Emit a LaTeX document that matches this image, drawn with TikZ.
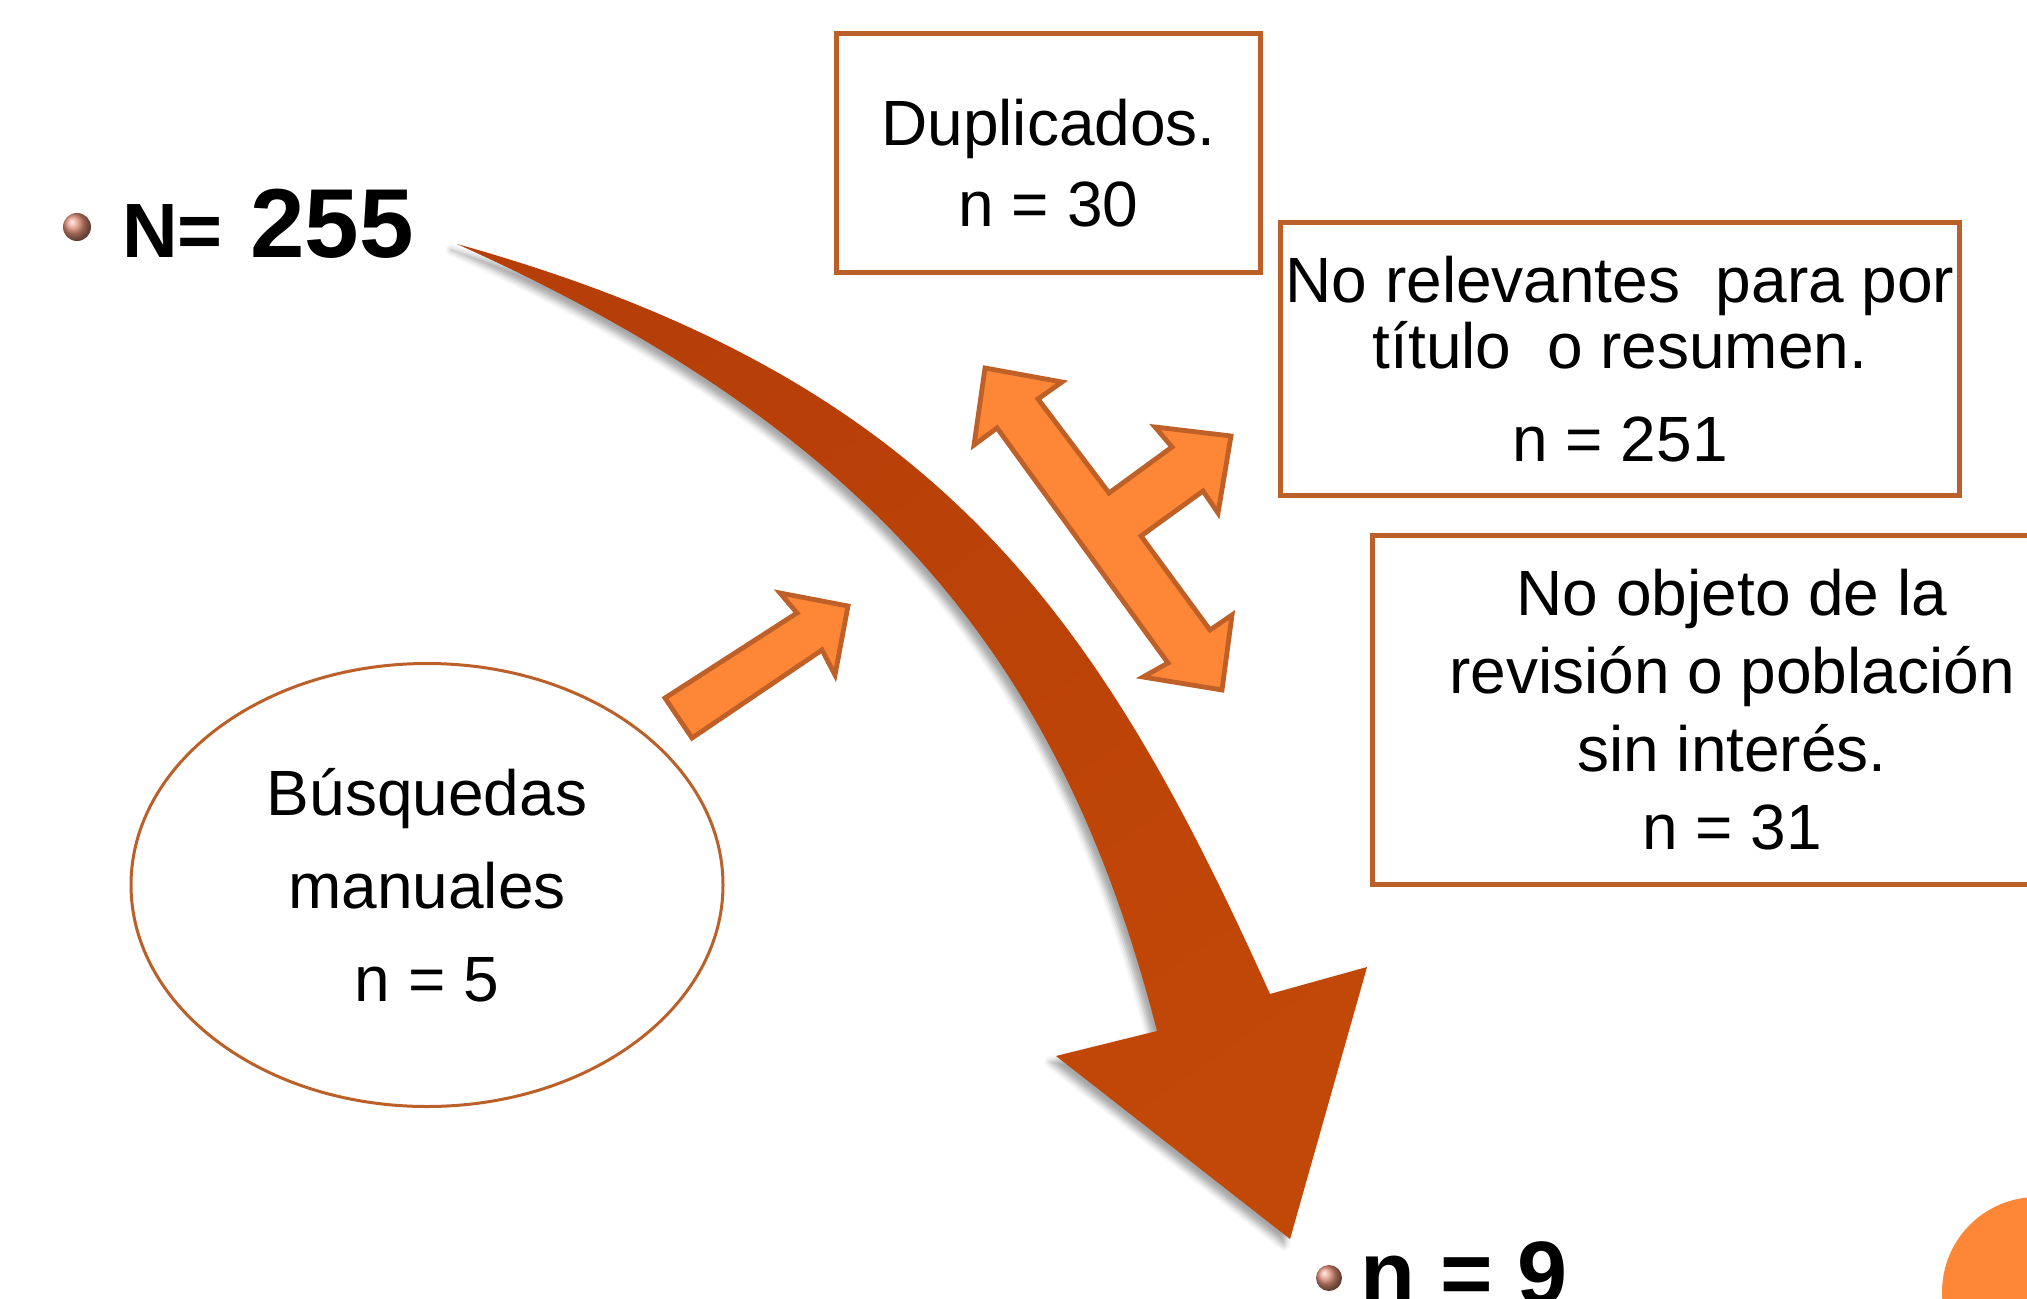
\documentclass[tikz,border=0pt]{standalone}
\usepackage{fontspec}
\setmainfont{Liberation Sans}
\usetikzlibrary{shapes.geometric,shadows.blur}

\definecolor{boxline}{RGB}{187,96,40}
\definecolor{lightarrow}{RGB}{253,134,55}
\definecolor{arrowline}{RGB}{190,96,40}
\definecolor{tailcol}{RGB}{182,62,8}
\definecolor{midcol}{RGB}{212,82,6}
\definecolor{headcol}{RGB}{194,72,8}
\definecolor{dotcol}{RGB}{222,142,118}

\begin{document}
\begin{tikzpicture}[x=0.5pt,y=0.5pt,yscale=-1,
	box/.style={draw=boxline,line width=2.5pt,fill=white,align=center,inner sep=0pt},
	ell/.style={ellipse,draw=boxline,line width=1.5pt,align=center,inner sep=0pt,minimum width=296pt,minimum height=221.5pt,font=\fontsize{32}{46.5}\selectfont},
	blockarrow/.style={fill=lightarrow,draw=arrowline,line width=2.4pt,line join=miter},
	bigarrow/.style={top color=tailcol,middle color=midcol,bottom color=headcol,shading angle=35,
		blur shadow={shadow xshift=-3pt,shadow yshift=-3pt,shadow blur radius=3pt,shadow opacity=35}},
	dot/.style={circle,inner sep=0pt,ball color=dotcol}]
	\useasboundingbox (0,0) rectangle (2027,1299);
	\clip (0,0) rectangle (2027,1299);
	\draw (77,227) node [dot,minimum size=14pt] (dotstart) {};
	\draw (122,258) node [anchor=base west,inner sep=0pt,font=\bfseries\fontsize{38.5}{40}\selectfont] (total) {N={\fontsize{49}{53}\selectfont\ 255}};
	\draw (1048.5,153) node [box,minimum width=212pt,minimum height=119.5pt,font=\fontsize{32}{40.5}\selectfont] (dup) {\rule{0pt}{33pt}Duplicados.\\n = 30};
	\draw (1620,359) node [box,minimum width=339.5pt,minimum height=136.5pt,font=\fontsize{32}{33}\selectfont] (rel) {No relevantes\ \ para por\\título\ \ o resumen.\\[13.5pt]n = 251};
	\draw (1732,710) node [box,minimum width=359.5pt,minimum height=174.5pt,font=\fontsize{32}{39}\selectfont] (obj) {No objeto de la\\revisión o población\\sin interés.\\n = 31};
	\draw (427,885) node [ell] (manual) {Búsquedas\\manuales\\n = 5};
	\path [bigarrow] (457,244) .. controls (937,378) and (1098,612) .. (1270,994) -- (1367,967) -- (1290,1239) -- (1056,1056) -- (1157,1031) .. controls (1064.5,672) and (884.7,436.7) .. (457,244) -- cycle;
	\draw [blockarrow] (665,698) -- (797,613) -- (780,593) -- (848,606) -- (835,675) -- (822,650) -- (692,738) -- cycle;
	\draw [blockarrow] (985,368) -- (1062,382) -- (1038,399) -- (1109,493) -- (1172,447) -- (1155,427) -- (1231,436) -- (1218,513) -- (1203,491) -- (1141,536) -- (1210,630) -- (1232,615) -- (1222,690) -- (1143,677) -- (1168,663) -- (997,428) -- (974,445) -- cycle;
	\draw (1329,1278) node [dot,minimum size=13pt] (dotend) {};
	\draw (1360,1304) node [anchor=base west,inner sep=0pt,font=\bfseries\fontsize{45}{48}\selectfont] (final) {n = 9};
	\fill [lightarrow] (2037,1292) circle (95);
\end{tikzpicture}
\end{document}
